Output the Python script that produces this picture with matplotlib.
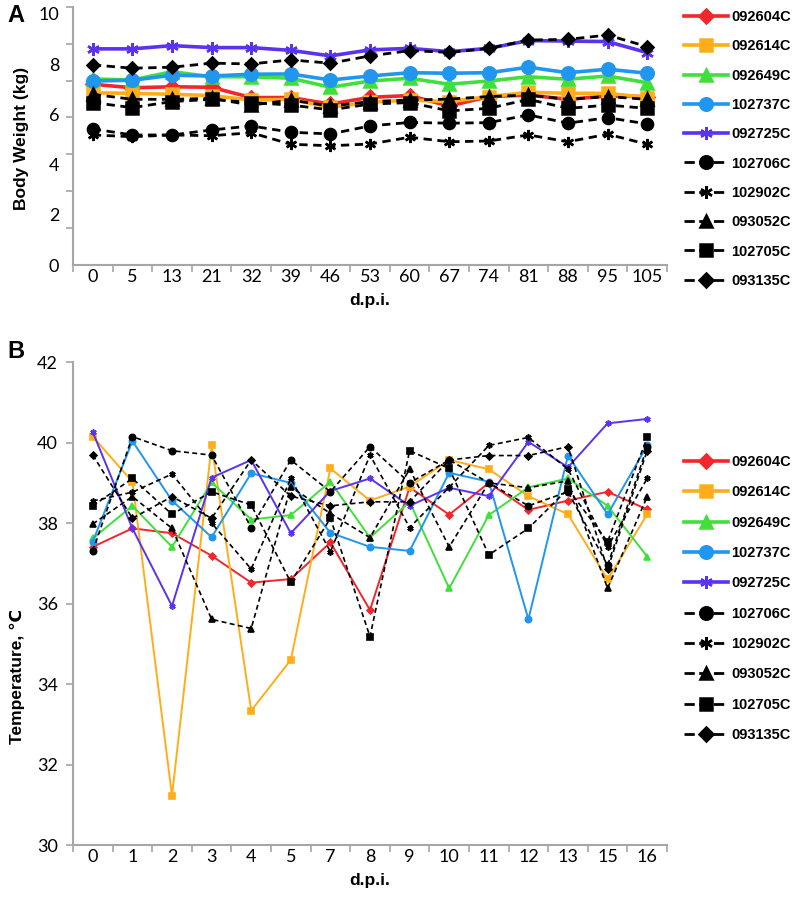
import matplotlib
matplotlib.use("Agg")
import matplotlib.pyplot as plt
from matplotlib.lines import Line2D
import numpy as np

plt.rcParams['font.family'] = ['Liberation Sans', 'DejaVu Sans']

# ---- data ----
series = ['092604C', '092614C', '092649C', '102737C', '092725C',
          '102706C', '102902C', '093052C', '102705C', '093135C']
colors = ['#F2262B', '#FFAE1A', '#3FE03B', '#2196EF', '#5A32F0',
          'black', 'black', 'black', 'black', 'black']
markers = ['D', 's', '^', 'o', (6, 2, 0), 'o', (6, 2, 0), '^', 's', 'D']

days_a = ['0', '5', '13', '21', '32', '39', '46', '53', '60', '67', '74', '81', '88', '95', '105']
weight = {
    '092604C': [7.20, 7.06, 7.10, 7.08, 6.67, 6.67, 6.41, 6.68, 6.75, 6.33, 6.71, 6.77, 6.60, 6.73, 6.71],
    '092614C': [6.86, 6.84, 6.80, 6.75, 6.57, 6.60, 6.28, 6.48, 6.57, 6.51, 6.71, 6.88, 6.84, 6.84, 6.67],
    '092649C': [7.41, 7.37, 7.70, 7.50, 7.50, 7.44, 7.08, 7.33, 7.44, 7.20, 7.33, 7.50, 7.40, 7.53, 7.26],
    '102737C': [7.33, 7.36, 7.56, 7.53, 7.60, 7.61, 7.37, 7.53, 7.66, 7.64, 7.66, 7.88, 7.66, 7.80, 7.64],
    '092725C': [8.61, 8.61, 8.74, 8.66, 8.66, 8.55, 8.33, 8.57, 8.63, 8.50, 8.63, 8.94, 8.92, 8.90, 8.46],
    '102706C': [5.42, 5.18, 5.18, 5.38, 5.54, 5.29, 5.22, 5.54, 5.68, 5.65, 5.67, 5.98, 5.65, 5.87, 5.62],
    '102902C': [5.18, 5.11, 5.18, 5.15, 5.27, 4.81, 4.75, 4.82, 5.09, 4.91, 4.94, 5.18, 4.91, 5.21, 4.81],
    '093052C': [6.80, 6.60, 6.60, 6.64, 6.37, 6.57, 6.33, 6.51, 6.57, 6.61, 6.71, 6.77, 6.60, 6.71, 6.60],
    '102705C': [6.47, 6.27, 6.51, 6.60, 6.47, 6.37, 6.18, 6.41, 6.47, 6.14, 6.24, 6.60, 6.24, 6.37, 6.24],
    '093135C': [7.97, 7.84, 7.88, 8.04, 8.01, 8.17, 8.04, 8.33, 8.54, 8.47, 8.63, 8.96, 8.99, 9.16, 8.70],
}

days_b = ['0', '1', '2', '3', '4', '5', '7', '8', '9', '10', '11', '12', '13', '15', '16']
temp = {
    '092604C': [37.41, 37.87, 37.75, 37.19, 36.52, 36.61, 37.52, 35.84, 38.89, 38.21, 39.00, 38.33, 38.56, 38.78, 38.34],
    '092614C': [40.15, 39.03, 31.22, 39.93, 33.34, 34.60, 39.36, 38.56, 38.91, 39.57, 39.34, 38.67, 38.22, 36.60, 38.22],
    '092649C': [37.62, 38.43, 37.41, 39.01, 38.09, 38.20, 39.03, 37.64, 38.53, 36.38, 38.20, 38.89, 39.11, 38.43, 37.17],
    '102737C': [37.54, 40.04, 38.56, 37.65, 39.24, 39.00, 37.76, 37.41, 37.31, 39.25, 39.03, 35.61, 39.68, 38.22, 39.93],
    '092725C': [40.26, 37.87, 35.94, 39.13, 39.57, 37.75, 38.80, 39.11, 38.43, 38.88, 38.67, 40.02, 39.39, 40.48, 40.59],
    '102706C': [37.31, 40.15, 39.80, 39.69, 37.89, 39.57, 38.78, 39.90, 39.00, 39.57, 39.00, 38.43, 38.78, 36.95, 39.90],
    '102902C': [38.55, 38.77, 39.22, 38.00, 36.86, 39.11, 37.29, 39.69, 37.89, 38.89, 39.93, 40.13, 39.34, 37.41, 39.11],
    '093052C': [37.98, 38.66, 37.87, 35.61, 35.38, 38.90, 38.24, 37.64, 39.34, 37.41, 39.00, 38.88, 39.05, 36.38, 38.66],
    '102705C': [38.43, 39.11, 38.22, 38.78, 38.45, 36.53, 38.12, 35.18, 39.80, 39.36, 37.21, 37.87, 38.85, 37.54, 40.13],
    '093135C': [39.69, 38.12, 38.66, 38.12, 39.57, 38.67, 38.43, 38.53, 38.53, 39.57, 39.68, 39.68, 39.90, 36.86, 39.80],
}

grey = '#A6A6A6'
tick_font = dict(family='Lato', size=13)

fig = plt.figure(figsize=(8, 9.06), dpi=100)
ax1 = fig.add_axes([73 / 800, 1 - 265 / 906, 594 / 800, 258.3 / 906])
ax2 = fig.add_axes([73 / 800, 1 - 845 / 906, 594 / 800, 482.8 / 906])


def style_axis(ax, labels):
    n = len(labels)
    for s in ['top', 'right']:
        ax.spines[s].set_visible(False)
    for s in ['left', 'bottom']:
        ax.spines[s].set_color(grey)
        ax.spines[s].set_linewidth(1.5)
    ax.set_xlim(-0.5, n - 0.5)
    ax.set_xticks(np.arange(n))
    ax.set_xticklabels(labels, fontdict=tick_font)
    ax.set_xticks(np.arange(n + 1) - 0.5, minor=True)
    ax.tick_params(axis='x', which='major', length=0, pad=3)
    ax.tick_params(axis='x', which='minor', length=5, color=grey, width=1.2)


def legend_handles(ax):
    handles, labels = ax.get_legend_handles_labels()
    out = []
    for h in handles:
        c = h.get_color()
        out.append(Line2D([], [], color=c, ls=h.get_linestyle(),
                          lw=2.6 if c != 'black' else 2.0,
                          marker=h.get_marker(), ms=9 if h.get_marker() != 'D' else 7,
                          mew=1.8, mec=c, mfc=c))
    return out, labels


# ---- panel A: body weight ----
x = np.arange(len(days_a))
for name, c, m in zip(series, colors, markers):
    if c == 'black':
        ax1.plot(x, weight[name], color='black', lw=2.0, ls=(0, (3, 2)), marker=m,
                 ms=8 if m != 'D' else 6, mew=1.8, label=name)
    else:
        ax1.plot(x, weight[name], color=c, lw=2.6, marker=m, ms=9 if m != 'D' else 7,
                 mew=1.8, mec=c, label=name)

style_axis(ax1, days_a)
ax1.set_ylim(0, 10.29)
ax1.set_yticks(np.arange(0, 11, 2))
ax1.set_yticklabels([str(v) for v in range(0, 11, 2)], fontdict=tick_font)
ax1.set_yticks(np.linspace(0, 10.29, 8), minor=True)
ax1.tick_params(axis='y', which='major', length=0, pad=10)
ax1.tick_params(axis='y', which='minor', length=5, color=grey, width=1.2)
ax1.set_ylabel('Body Weight (kg)', fontsize=12.5, fontweight='bold')
ax1.yaxis.set_label_coords(-0.074, 0.49)
ax1.set_xlabel('d.p.i.', fontsize=12.5, fontweight='bold')
ax1.xaxis.set_label_coords(0.5, -0.108)

h, l = legend_handles(ax1)
fig.legend(h, l, loc='upper left', bbox_to_anchor=(684 / 800, 1 - 10 / 906), frameon=False,
           borderpad=0, borderaxespad=0, handlelength=3.0, handletextpad=0.25,
           labelspacing=1.05, prop={'size': 10.5, 'weight': 'bold'})

# ---- panel B: temperature ----
x = np.arange(len(days_b))
for name, c, m in zip(series, colors, markers):
    if c == 'black':
        ax2.plot(x, temp[name], color='black', lw=1.2, ls=(0, (3, 2)), marker=m,
                 ms=4.5 if m != 'D' else 3.5, mew=1.2, label=name)
    else:
        ax2.plot(x, temp[name], color=c, lw=1.4, marker=m, ms=4.5 if m != 'D' else 3.5,
                 mew=1.2, mec=c, label=name)

style_axis(ax2, days_b)
ax2.set_ylim(30, 42)
ax2.set_yticks(np.arange(30, 43, 2))
ax2.set_yticklabels([str(v) for v in range(30, 43, 2)], fontdict=tick_font)
ax2.tick_params(axis='y', which='major', length=5, color=grey, width=1.2, pad=6)
ax2.set_ylabel('Temperature, \u2103', fontsize=12.5, fontweight='bold')
ax2.yaxis.set_label_coords(-0.08, 0.35)
ax2.set_xlabel('d.p.i.', fontsize=12.5, fontweight='bold')
ax2.xaxis.set_label_coords(0.5, -0.057)

h, l = legend_handles(ax2)
fig.legend(h, l, loc='upper left', bbox_to_anchor=(684 / 800, 1 - 455 / 906),
           frameon=False, borderpad=0, borderaxespad=0, handlelength=3.0,
           handletextpad=0.25, labelspacing=1.12, prop={'size': 10.5, 'weight': 'bold'})

fig.text(16 / 800, 1 - 15 / 906, 'A', fontsize=17, fontweight='bold', ha='center', va='center')
fig.text(16 / 800, 1 - 352 / 906, 'B', fontsize=17, fontweight='bold', ha='center', va='center')

fig.savefig('out.png', dpi=100)
